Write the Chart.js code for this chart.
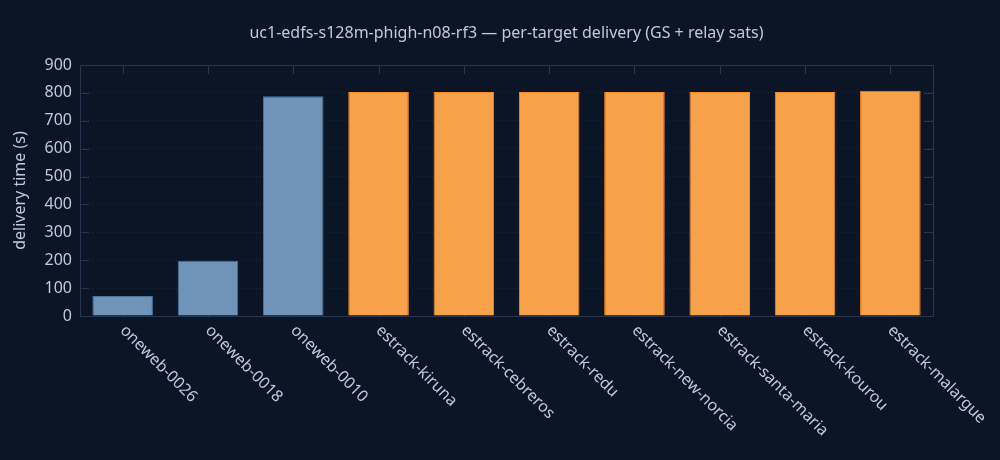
<!DOCTYPE html>
<html>
<head>
<meta charset="utf-8">
<script src="https://cdn.jsdelivr.net/npm/chart.js@4.4.1/dist/chart.umd.min.js"></script>
<style>
  html, body { margin: 0; padding: 0; background: #0b1526; }
  #wrap { width: 1000px; height: 460px; position: relative; }
</style>
</head>
<body>
<div id="wrap"><canvas id="deliveryChart"></canvas></div>
<script>
// per-target delivery values
const categories = ['oneweb-0026', 'oneweb-0018', 'oneweb-0010', 'estrack-kiruna', 'estrack-cebreros',
    'estrack-redu', 'estrack-new-norcia', 'estrack-santa-maria', 'estrack-kourou', 'estrack-malargue'];
const deliverySeconds = [72, 198, 788, 803, 803, 803, 803, 803, 803, 808];
const targetKind = ['relay', 'relay', 'relay', 'gs', 'gs', 'gs', 'gs', 'gs', 'gs', 'gs'];
const yTicks = [0, 100, 200, 300, 400, 500, 600, 700, 800, 900];

const TEXT = '#bccbe0';
const FRAME = '#28374f';
const FONT = '"Noto Sans", "DejaVu Sans", sans-serif';

const fillFor = { relay: '#7093b9', gs: '#f8a14b' };
const edgeFor = { relay: '#4c72a2', gs: '#f88c22' };

// frame with inward ticks on every side, plus slanted x labels
const framePlugin = {
    id: 'frame',
    beforeDraw(chart) {
        const { ctx } = chart;
        ctx.save();
        ctx.fillStyle = '#0b1526';
        ctx.fillRect(0, 0, chart.width, chart.height);
        ctx.restore();
    },
    beforeDatasetsDraw(chart) {
        const { ctx, chartArea: a, scales: { x, y } } = chart;
        ctx.save();
        ctx.strokeStyle = FRAME;
        ctx.lineWidth = 1;
        ctx.setLineDash([]);
        ctx.beginPath();
        yTicks.forEach(v => {
            const py = Math.round(y.getPixelForValue(v)) + 0.5;
            ctx.moveTo(a.left, py); ctx.lineTo(a.left + 9, py);
            ctx.moveTo(a.right, py); ctx.lineTo(a.right - 9, py);
        });
        categories.forEach((c, i) => {
            const px = Math.round(x.getPixelForValue(i)) + 0.5;
            ctx.moveTo(px, a.top); ctx.lineTo(px, a.top + 9);
            ctx.moveTo(px, a.bottom); ctx.lineTo(px, a.bottom - 9);
        });
        ctx.stroke();
        ctx.restore();
    },
    afterDatasetsDraw(chart) {
        const { ctx, chartArea: a, scales: { x } } = chart;
        ctx.save();
        ctx.strokeStyle = FRAME;
        ctx.lineWidth = 1;
        ctx.setLineDash([]);
        ctx.strokeRect(Math.round(a.left) + 0.5, Math.round(a.top) + 0.5,
            Math.round(a.right - a.left), Math.round(a.bottom - a.top));

        ctx.fillStyle = TEXT;
        ctx.font = '16px ' + FONT;
        ctx.textAlign = 'left';
        ctx.textBaseline = 'middle';
        categories.forEach((c, i) => {
            ctx.save();
            ctx.translate(x.getPixelForValue(i), a.bottom + 12);
            ctx.rotate(Math.PI / 4);
            ctx.fillText(c, 0, 0);
            ctx.restore();
        });
        ctx.restore();
    }
};

new Chart(document.getElementById('deliveryChart'), {
    type: 'bar',
    data: {
        labels: categories,
        datasets: [{
            label: 'delivery time (s)',
            data: deliverySeconds,
            backgroundColor: targetKind.map(k => fillFor[k]),
            borderColor: targetKind.map(k => edgeFor[k]),
            borderWidth: 1,
            categoryPercentage: 1,
            barPercentage: 0.71
        }]
    },
    options: {
        responsive: true,
        maintainAspectRatio: false,
        animation: false,
        layout: { padding: { left: 0, right: 67, top: 0, bottom: 0 } },
        plugins: {
            legend: { display: false },
            tooltip: { enabled: false },
            title: {
                display: true,
                fullSize: false,
                text: 'uc1-edfs-s128m-phigh-n08-rf3 — per-target delivery (GS + relay sats)',
                color: TEXT,
                font: { family: FONT, size: 16, weight: 'normal', lineHeight: 1.2 },
                padding: { top: 23.4, bottom: 22.4 }
            }
        },
        scales: {
            x: {
                ticks: { display: false },
                grid: { display: false },
                border: { display: false },
                afterFit(scale) { scale.height = 144; }
            },
            y: {
                min: 0,
                max: 900,
                afterBuildTicks(scale) { scale.ticks = yTicks.map(v => ({ value: v })); },
                ticks: {
                    color: TEXT,
                    padding: 8,
                    font: { family: FONT, size: 16 }
                },
                grid: { color: '#1b283d', lineWidth: 1, drawTicks: false },
                border: { display: false, dash: [1, 3] },
                title: {
                    display: true,
                    text: 'delivery time (s)',
                    color: TEXT,
                    font: { family: FONT, size: 16, lineHeight: 1.2 },
                    padding: { top: 10.4, bottom: 0 }
                },
                afterFit(scale) { scale.width = 80; }
            }
        }
    },
    plugins: [framePlugin]
});
</script>
</body>
</html>
